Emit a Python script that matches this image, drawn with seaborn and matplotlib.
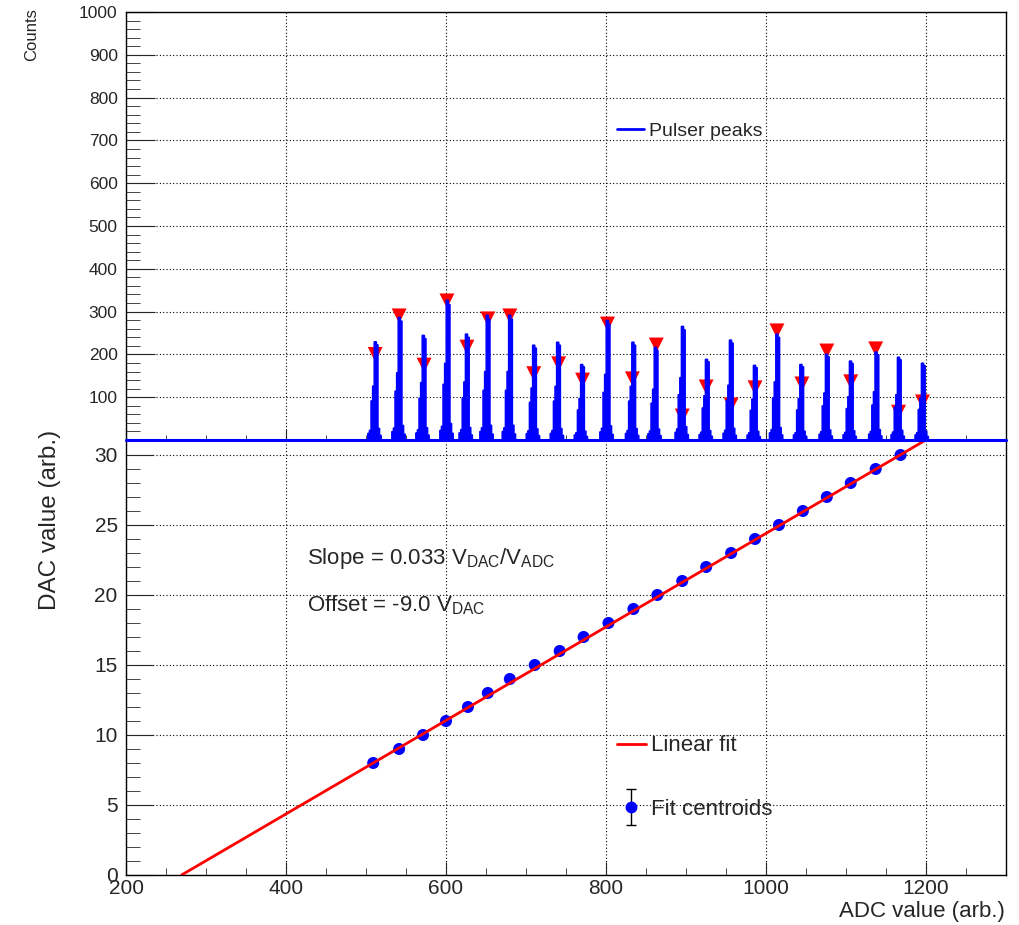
import numpy as np
import pandas as pd
import matplotlib
matplotlib.use("Agg")
import matplotlib.pyplot as plt
import seaborn as sns
from matplotlib.lines import Line2D
from matplotlib.collections import LineCollection
from matplotlib.container import ErrorbarContainer
from matplotlib.legend_handler import HandlerErrorbar
from matplotlib.ticker import MultipleLocator

# ==== data ====
# pulser peaks in the ADC spectrum (spike top) and the peak-finder markers
peak_adc = [511.5, 541.4, 572.6, 601.2, 626.2, 652.3, 679.8, 709.7, 740.8, 770.7,
            801.9, 833.0, 862.9, 895.3, 925.2, 956.4, 986.3, 1013.7, 1044.9, 1076.0,
            1105.9, 1137.1, 1165.7, 1195.6]
peak_height = [230, 287, 245, 327, 248, 292, 292, 222, 229, 177, 280, 229,
               217, 266, 189, 234, 175, 248, 177, 201, 185, 206, 194, 180]
marker_height = [200, 290, 175, 325, 217, 283, 290, 155, 178, 140, 271, 143,
                 222, 56, 124, 82, 122, 255, 131, 208, 136, 213, 65, 89]

# shape of one pulser peak, in 2-ADC bins around the spike
peak_offsets = [-4, -3, -2, -1, 0, 1, 2, 3]
peak_shape = [0.07, 0.1, 0.4, 0.55, 1.0, 0.97, 0.12, 0.05]

# fitted centroids vs DAC step
centroid_adc = [509.0, 541.4, 571.3, 600.0, 627.4, 652.3, 679.8, 710.9, 742.1, 772.0,
                803.1, 834.3, 864.2, 895.3, 925.2, 956.4, 986.3, 1016.2, 1046.1,
                1076.0, 1105.9, 1137.1, 1168.2]
dac_value = [8, 9, 10, 11, 12, 13, 14, 15, 16, 17, 18, 19, 20, 21, 22, 23,
             24, 25, 26, 27, 28, 29, 30]

fit_slope = 0.0334
fit_offset = -9.0
fit_range = [269.5, 1200.0]

# ==== build histogram ====
edges = np.arange(200, 1302, 2.0)
centers = edges[:-1] + 1.0
counts = np.zeros(len(centers))
for x0, h in zip(peak_adc, peak_height):
    i0 = int((x0 - 1 - 200) // 2)
    for off, f in zip(peak_offsets, peak_shape):
        counts[i0 + off] += h * f
hist_df = pd.DataFrame({"adc": centers, "counts": counts})

fit_x = np.array(fit_range)
fit_df = pd.DataFrame({"adc": fit_x, "dac": fit_slope * fit_x + fit_offset})
pts_df = pd.DataFrame({"adc": centroid_adc, "dac": dac_value})

# ==== style ====
sns.set_style("ticks")
plt.rcParams["font.family"] = ["Liberation Sans", "DejaVu Sans"]
plt.rcParams["mathtext.default"] = "regular"

fig = plt.figure(figsize=(10.19, 9.25), dpi=100)
left, right = 126 / 1019, 1006 / 1019
ax1 = fig.add_axes([left, 1 - 440 / 925, right - left, (440 - 12) / 925])
ax2 = fig.add_axes([left, 1 - 875 / 925, right - left, (875 - 440) / 925], sharex=ax1)
ax1.set_zorder(2)  # spectrum baseline on top of the lower frame

grid_kw = dict(color="black", linestyle=(0, (1, 2)), linewidth=0.8)

# ---- top: spectrum ----
sns.scatterplot(x=peak_adc, y=marker_height, marker="v", color="red", s=115,
                edgecolor="none", zorder=1, ax=ax1)
sns.histplot(data=hist_df, x="adc", weights="counts", binwidth=2, binrange=(200, 1300),
             element="step", fill=True, color="blue", alpha=1, linewidth=1.5,
             zorder=3, ax=ax1)
# empty bins of the histogram sit on the axis: draw that baseline in blue
ax1.axhline(0, color="blue", linewidth=2.2, zorder=3, clip_on=False)
ax1.set_xlim(200, 1300)
ax1.set_ylim(0, 1000)
ax1.set_yticks(range(100, 1001, 100))
ax1.yaxis.set_minor_locator(MultipleLocator(20))
ax1.xaxis.set_major_locator(MultipleLocator(200))
ax1.xaxis.set_minor_locator(MultipleLocator(50))
ax1.grid(True, which="major", **grid_kw)
ax1.set_axisbelow(True)
ax1.tick_params(axis="x", which="major", direction="in", length=8, labelbottom=False)
ax1.tick_params(axis="x", which="minor", direction="in", length=3.6)
ax1.tick_params(axis="y", which="major", direction="in", length=21, labelsize=12.5, pad=6)
ax1.tick_params(axis="y", which="minor", direction="in", length=10)
ax1.set_xlabel("")
ax1.set_ylabel("")
ax1.legend(handles=[Line2D([], [], color="blue", lw=2)], labels=["Pulser peaks"],
           loc="center left", bbox_to_anchor=(0.538, 0.722), frameon=False,
           fontsize=14, handlelength=1.4, handletextpad=0.25)

# ---- bottom: calibration ----
sns.scatterplot(data=pts_df, x="adc", y="dac", color="blue", s=75,
                edgecolor="none", zorder=2, ax=ax2)
sns.lineplot(data=fit_df, x="adc", y="dac", color="red", linewidth=2, zorder=3, ax=ax2)
ax2.set_ylim(0, 31.07)
ax2.set_yticks(range(0, 31, 5))
ax2.yaxis.set_minor_locator(MultipleLocator(1))
ax2.grid(True, which="major", **grid_kw)
ax2.set_axisbelow(True)
ax2.tick_params(axis="x", which="major", direction="in", length=9.4, labelsize=15, pad=3)
ax2.tick_params(axis="x", which="minor", direction="in", length=5)
ax2.tick_params(axis="y", which="major", direction="in", length=19.5, labelsize=15, pad=6)
ax2.tick_params(axis="y", which="minor", direction="in", length=10)
ax2.set_xlabel("")
ax2.set_ylabel("")

ax2.text(426.8, 22.6, "Slope = 0.033 V$_{DAC}$/V$_{ADC}$", fontsize=16, va="center")
ax2.text(426.8, 19.3, "Offset = -9.0 V$_{DAC}$", fontsize=16, va="center")

# legend handle: blue marker with black error bar and caps
eb_marker = Line2D([], [], marker="o", color="blue", linestyle="none", markersize=7.5)
eb_cap = Line2D([], [], marker="_", color="black", linestyle="none",
                markersize=7, markeredgewidth=1)
eb_bar = LineCollection([], colors="black", linewidths=1)
eb = ErrorbarContainer((eb_marker, (eb_cap, eb_cap), (eb_bar,)),
                       has_xerr=False, has_yerr=True)
ax2.legend(handles=[Line2D([], [], color="red", lw=2), eb],
           labels=["Linear fit", "Fit centroids"],
           handler_map={ErrorbarContainer: HandlerErrorbar(xerr_size=0, yerr_size=0.8)},
           loc="upper left", bbox_to_anchor=(0.535, 0.367), frameon=False,
           fontsize=16, handlelength=1.3, handletextpad=0.25, labelspacing=1.9)

for ax in (ax1, ax2):
    for s in ax.spines.values():
        s.set_visible(True)
        s.set_color("black")
        s.set_linewidth(1)

fig.text(32 / 1019, 1 - 8 / 925, "Counts", rotation=90, ha="center", va="top", fontsize=12)
fig.text(50 / 1019, 1 - 430 / 925, "DAC value (arb.)", rotation=90, ha="center",
         va="top", fontsize=17.5)
fig.text(1005 / 1019, 1 - 912 / 925, "ADC value (arb.)", ha="right", va="center",
         fontsize=16)

fig.savefig("out.png", dpi=100)
